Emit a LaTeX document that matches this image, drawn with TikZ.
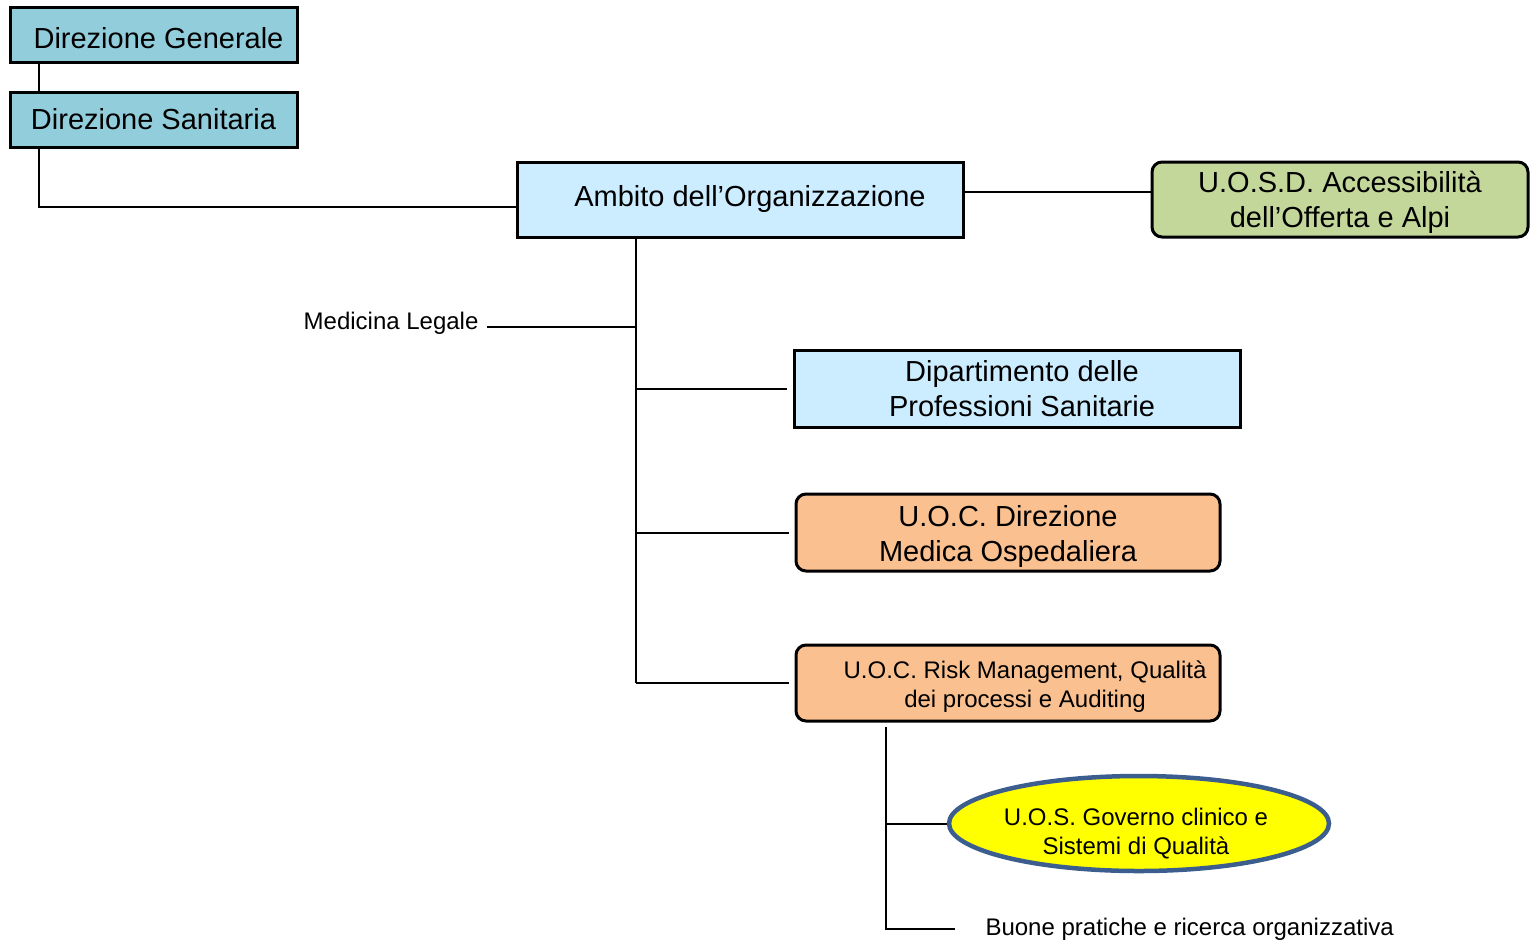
\documentclass[tikz,border=0pt]{standalone}
\usepackage{fontspec}
\setmainfont{Liberation Sans}
\usetikzlibrary{shapes.geometric}
\definecolor{dirblue}{HTML}{92CDDC}
\definecolor{paleblue}{HTML}{CCECFF}
\definecolor{olive}{HTML}{C4D79B}
\definecolor{peach}{HTML}{FAC090}
\definecolor{ellblue}{HTML}{3B5E8F}
\definecolor{brightyellow}{HTML}{FFFF00}

\begin{document}
\begin{tikzpicture}[x=1pt, y=-1pt, font=\fontsize{29}{35}\selectfont,
    box/.style={draw, line width=3pt, inner sep=0pt, align=center},
    rbox/.style={box, rounded corners=10pt},
    small/.style={font=\fontsize{24}{29}\selectfont, align=center},
    link/.style={line width=2pt}]
        \useasboundingbox (0,0) rectangle (1530,943);
        % vertici
        \node[box, fill=dirblue, minimum width=287pt, minimum height=55pt] (dg) at (153.5,34.5) {};
        \node (dgtxt) at ([xshift=5pt,yshift=-4pt]dg.center) {Direzione Generale};
        \node[box, fill=dirblue, minimum width=287pt, minimum height=55pt] (ds) at (153.5,119.5) {Direzione Sanitaria};
        \node[box, fill=paleblue, minimum width=446pt, minimum height=75pt] (amb) at (740,199.5) {};
        \node (ambtxt) at ([xshift=10pt,yshift=1pt]amb.center) {Ambito dell'Organizzazione};
        \node[rbox, fill=olive, minimum width=376pt, minimum height=75pt] (uosd) at (1340,199.5) {};
        \node[align=center] (uosdtxt) at ([yshift=-3pt]uosd.center) {U.O.S.D. Accessibilità\\dell'Offerta e Alpi};
        % strutture
        \node[anchor=base east, small] (medleg) at (482,329) {Medicina Legale};
        \node[box, fill=paleblue, minimum width=446pt, minimum height=77pt] (dps) at (1017,388.5) {};
        \node[align=center] (dpstxt) at ([xshift=5pt]dps.center) {Dipartimento delle\\Professioni Sanitarie};
        \node[rbox, fill=peach, minimum width=424pt, minimum height=77pt] (dmo) at (1008,532.5) {};
        \node[align=center] (dmotxt) at ([yshift=-4pt]dmo.center) {U.O.C. Direzione\\Medica Ospedaliera};
        \node[rbox, fill=peach, minimum width=424pt, minimum height=76pt] (risk) at (1008,683) {};
        \node[small] (risktxt) at ([xshift=17pt,yshift=-3.5pt]risk.center) {U.O.C. Risk Management, Qualità\\dei processi e Auditing};
        \node[ellipse, draw=ellblue, line width=4.5pt, fill=brightyellow, inner sep=0pt, minimum width=380pt, minimum height=95pt] (uos) at (1139,823.5) {};
        \node[small] (uostxt) at ([xshift=-3pt,yshift=-10pt]uos.center) {U.O.S. Governo clinico e\\Sistemi di Qualità};
        \node[anchor=west, small] (buone) at (982,929) {Buone pratiche e ricerca organizzativa};
        % collegamenti
        \draw[link] ([xshift=30pt]dg.south west) -- ([xshift=30pt]ds.north west);
        \draw[link] ([xshift=30pt]ds.south west) |- ([yshift=-7.5pt]amb.west);
        \draw[link] ([yshift=7.5pt]amb.east) -- ([yshift=7.5pt]uosd.west);
        \draw[link] ([xshift=120pt]amb.south west) coordinate (trunk) -- (trunk |- risk.west);
        \draw[link] ([xshift=5pt,yshift=2pt]medleg.base east) coordinate (ml) -- (trunk |- ml);
        \foreach \n in {dps,dmo,risk} \draw[link, shorten >=6pt] (trunk |- \n.west) -- (\n.west);
        \draw[link] ([xshift=91pt,yshift=-4pt]risk.south west) coordinate (sub) |- ([xshift=-27pt]buone.west);
        \draw[link] (sub |- uos.west) -- (uos.west);
    \end{tikzpicture}
\end{document}
